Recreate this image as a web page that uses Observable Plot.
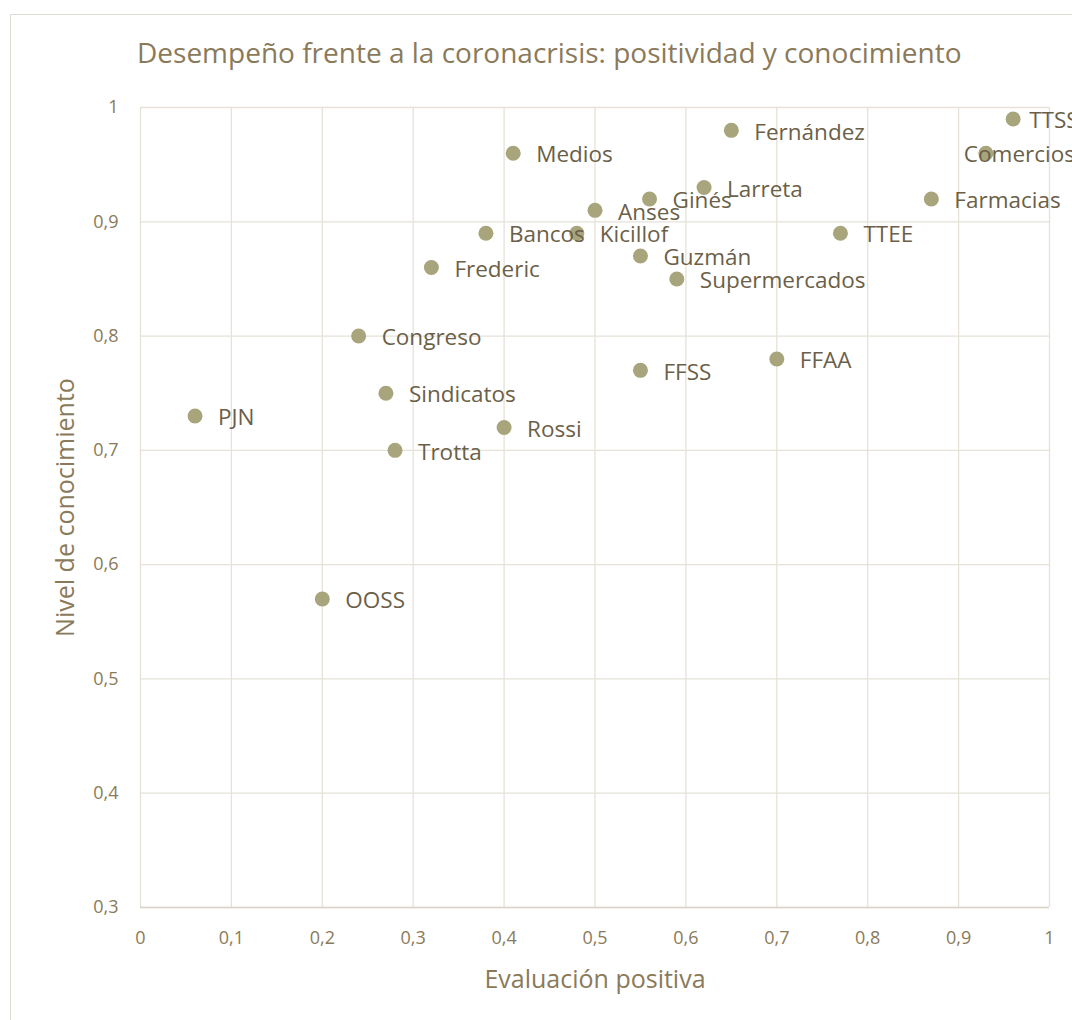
<!DOCTYPE html>
<html>
<head>
<meta charset="utf-8">
<script src="https://cdn.jsdelivr.net/npm/d3@7"></script>
<script src="https://cdn.jsdelivr.net/npm/@observablehq/plot@0.6"></script>
<style>
  html, body { margin: 0; padding: 0; background: #fff; overflow: hidden; }
  #page { position: relative; width: 1072px; height: 1020px; overflow: hidden; font-family: "Open Sans", sans-serif; }
  #frame { position: absolute; left: 10px; top: 14px; width: 1200px; height: 1200px; border: 1px solid #dedbd3; box-sizing: border-box; }
  #title { position: absolute; left: 137px; top: 38px; font-size: 28px; color: #8a7a5a; white-space: nowrap; line-height: 1; }
  #chart { position: absolute; left: 0; top: 85px; }
</style>
</head>
<body>
<div id="page">
  <div id="frame"></div>
  <div id="title">Desempeño frente a la coronacrisis: positividad y conocimiento</div>
  <div id="chart"></div>
</div>
<script>
const names = ["TTSS","Comercios","Farmacias","TTEE","Fernández","Larreta","Ginés","Anses","Medios","Bancos","Kicillof","Guzmán","Supermercados","Frederic","Congreso","FFSS","FFAA","Sindicatos","PJN","Rossi","Trotta","OOSS"];
const positiva = [0.96,0.93,0.87,0.77,0.65,0.62,0.56,0.50,0.41,0.38,0.48,0.55,0.59,0.32,0.24,0.55,0.70,0.27,0.06,0.40,0.28,0.20];
const conocimiento = [0.99,0.96,0.92,0.89,0.98,0.93,0.92,0.91,0.96,0.89,0.89,0.87,0.85,0.86,0.80,0.77,0.78,0.75,0.73,0.72,0.70,0.57];
const xTicks = [0,0.1,0.2,0.3,0.4,0.5,0.6,0.7,0.8,0.9,1];
const yTicks = [0.3,0.4,0.5,0.6,0.7,0.8,0.9,1];

const data = names.map((n, i) => ({name: n, x: positiva[i], y: conocimiento[i]}));
const fmt = d => String(d).replace(".", ",");

const gridColor = "#e6e2d8";
const tickColor = "#8a7a5a";
const labelColor = "#6b5f48";
const labelStyle = { x: "x", y: "y", text: "name", textAnchor: "start", fontSize: 22.5, fill: labelColor, dy: 2 };

const chart = Plot.plot({
  width: 1072,
  height: 935,
  marginLeft: 140,
  marginRight: 23,
  marginTop: 22,
  marginBottom: 113,
  style: { fontFamily: "Open Sans, sans-serif", background: "transparent", overflow: "visible" },
  x: { domain: [0, 1], ticks: xTicks, tickFormat: fmt, label: null },
  y: { domain: [0.3, 1], ticks: yTicks, tickFormat: fmt, label: null },
  marks: [
    Plot.gridX(xTicks, { stroke: gridColor, strokeOpacity: 1, strokeWidth: 1.3 }),
    Plot.gridY(yTicks, { stroke: gridColor, strokeOpacity: 1, strokeWidth: 1.3 }),
    Plot.ruleY([0.3], { stroke: "#d9d5c9", strokeWidth: 1.3 }),
    Plot.axisX(xTicks, { tickSize: 0, tickPadding: 24, fontSize: 18, fill: tickColor, tickFormat: fmt, anchor: "bottom" }),
    Plot.axisY(yTicks, { tickSize: 0, tickPadding: 22, fontSize: 18, fill: tickColor, tickFormat: fmt, anchor: "left" }),
    Plot.text(["Evaluación positiva"], { frameAnchor: "bottom", textAnchor: "middle", dy: 80, fontSize: 25, fill: tickColor }),
    Plot.text(["Nivel de conocimiento"], { frameAnchor: "left", textAnchor: "middle", dx: -75, rotate: -90, fontSize: 25, fill: tickColor }),
    Plot.dot(data, { x: "x", y: "y", r: 7.5, fill: "#a8a47c", stroke: null }),
    Plot.text(data.filter(d => d.name !== "Comercios" && d.name !== "TTSS"), { ...labelStyle, dx: 23 }),
    Plot.text(data.filter(d => d.name === "Comercios"), { ...labelStyle, dx: -22 }),
    Plot.text(data.filter(d => d.name === "TTSS"), { ...labelStyle, dx: 16 })
  ]
});
document.getElementById("chart").appendChild(chart);
</script>
</body>
</html>
